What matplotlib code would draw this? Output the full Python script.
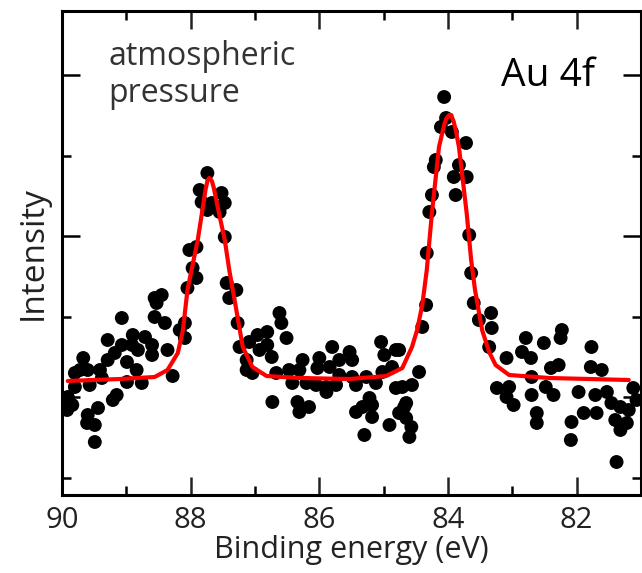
import matplotlib
matplotlib.use("Agg")
import matplotlib.pyplot as plt
from matplotlib.ticker import FixedLocator, NullFormatter
import numpy as np

plt.rcParams["font.family"] = ["Open Sans", "DejaVu Sans"]

# measured points: binding energy (eV) and intensity (arbitrary units)
energy = [
    89.95, 89.92, 89.91, 89.84, 89.80, 89.80, 89.72, 89.67, 89.61, 89.60,
    89.60, 89.57, 89.49, 89.49, 89.44, 89.41, 89.38, 89.29, 89.29, 89.21,
    89.18, 89.15, 89.07, 89.07, 88.99, 88.99, 88.91, 88.90, 88.84, 88.82,
    88.76, 88.71, 88.60, 88.60, 88.56, 88.56, 88.53, 88.45, 88.40, 88.36,
    88.28, 88.17, 88.09, 88.09, 88.05, 88.02, 87.97, 87.91, 87.91, 87.86,
    87.83, 87.74, 87.74, 87.67, 87.55, 87.52, 87.47, 87.47, 87.44, 87.40,
    87.29, 87.27, 87.24, 87.13, 87.13, 87.09, 87.04, 86.96, 86.93, 86.81,
    86.81, 86.74, 86.73, 86.67, 86.62, 86.59, 86.51, 86.47, 86.42, 86.34,
    86.31, 86.31, 86.26, 86.20, 86.16, 86.05, 86.03, 86.00, 85.89, 85.89,
    85.84, 85.80, 85.74, 85.69, 85.69, 85.53, 85.49, 85.49, 85.43, 85.43,
    85.33, 85.30, 85.27, 85.22, 85.18, 85.18, 85.12, 85.04, 85.02, 84.99,
    84.91, 84.87, 84.81, 84.81, 84.76, 84.76, 84.71, 84.68, 84.65, 84.65,
    84.60, 84.57, 84.56, 84.45, 84.40, 84.34, 84.33, 84.29, 84.25, 84.22,
    84.19, 84.11, 84.06, 84.03, 83.94, 83.91, 83.88, 83.83, 83.72, 83.71,
    83.67, 83.64, 83.60, 83.52, 83.36, 83.33, 83.32, 83.24, 83.09, 83.09,
    83.05, 82.98, 82.85, 82.79, 82.71, 82.70, 82.70, 82.62, 82.62, 82.51,
    82.48, 82.40, 82.36, 82.28, 82.25, 82.23, 82.09, 82.08, 81.97, 81.89,
    81.78, 81.77, 81.71, 81.69, 81.61, 81.53, 81.46, 81.40, 81.38, 81.32,
    81.32, 81.22, 81.19, 81.12, 81.07,
]
intensity = [
    95, 90, 103, 95, 127, 113, 130, 142, 77, 130,
    85, 115, 75, 58, 92, 130, 122, 160, 140, 100,
    147, 105, 182, 155, 138, 118, 155, 165, 130, 150,
    117, 163, 155, 145, 183, 202, 197, 205, 177, 150,
    124, 170, 177, 162, 212, 250, 232, 222, 253, 310,
    298, 327, 290, 297, 288, 307, 297, 263, 217, 202,
    210, 177, 153, 140, 130, 158, 127, 165, 150, 168,
    155, 143, 98, 127, 187, 177, 162, 130, 117, 98,
    130, 88, 140, 117, 93, 115, 132, 142, 113, 108,
    133, 153, 115, 140, 125, 148, 140, 123, 115, 88,
    93, 65, 123, 102, 95, 83, 117, 158, 128, 145,
    75, 133, 150, 112, 150, 87, 113, 93, 97, 82,
    63, 73, 115, 128, 173, 195, 247, 288, 305, 333,
    340, 373, 403, 382, 368, 323, 305, 335, 357, 323,
    265, 227, 197, 180, 153, 187, 172, 112, 142, 103,
    113, 95, 148, 162, 142, 123, 105, 87, 77, 157,
    113, 132, 105, 135, 162, 170, 60, 78, 108, 87,
    133, 153, 105, 87, 130, 108, 97, 80, 38, 93,
    70, 77, 90, 112, 100,
]

# fitted curve
fit_energy = [
    89.91, 89.10, 88.56, 88.36, 88.20, 88.12, 88.05, 87.97, 87.89, 87.81,
    87.77, 87.74, 87.71, 87.67, 87.64, 87.58, 87.47, 87.40, 87.29, 87.19,
    87.04, 86.82, 86.31, 85.53, 84.96, 84.71, 84.56, 84.48, 84.40, 84.33,
    84.25, 84.14, 84.06, 84.03, 83.98, 83.95, 83.91, 83.88, 83.83, 83.71,
    83.64, 83.58, 83.47, 83.36, 83.26, 83.05, 82.43, 81.19,
]
fit_intensity = [
    119, 121, 123, 130, 147, 170, 210, 235, 260, 293,
    310, 319, 322, 319, 312, 293, 260, 230, 190, 153,
    133, 124, 122, 121, 124, 132, 153, 170, 195, 230,
    287, 353, 375, 381, 385, 385, 378, 370, 353, 287,
    240, 210, 170, 148, 135, 125, 122, 120,
]

fig = plt.figure(figsize=(6.42, 5.73), dpi=100)
ax = fig.add_axes([62 / 642, 78 / 573, 579 / 642, 484 / 573])

ax.scatter(energy, intensity, s=100, color="black", edgecolors="none", zorder=3)
ax.plot(fit_energy, fit_intensity, color="#ff0000", linewidth=3.0, zorder=4,
        solid_joinstyle="round", solid_capstyle="round")

ax.set_xlim(90, 81)
ax.set_ylim(5, 489)

ax.xaxis.set_major_locator(FixedLocator([90, 88, 86, 84, 82]))
ax.xaxis.set_minor_locator(FixedLocator([89, 87, 85, 83, 81]))
ax.yaxis.set_major_locator(FixedLocator([103, 264, 425]))
ax.yaxis.set_minor_locator(FixedLocator([22, 183, 344]))
ax.yaxis.set_major_formatter(NullFormatter())

ax.tick_params(which="both", direction="in", top=True, right=True, width=1.8, color="black")
ax.tick_params(which="major", length=13)
ax.tick_params(which="minor", length=6.5)
ax.tick_params(axis="x", labelsize=21, pad=8, colors="#222222")
for spine in ax.spines.values():
    spine.set_linewidth(2.2)

ax.set_xlabel("Binding energy (eV)", fontsize=22, color="#222222", labelpad=0)
ax.set_ylabel("Intensity", fontsize=24, color="#222222", labelpad=5)

ax.text(0.08, 0.94, "atmospheric\npressure", transform=ax.transAxes, fontsize=23,
        color="#333333", ha="left", va="top", linespacing=1.15)
ax.text(0.92, 0.866, "Au 4f", transform=ax.transAxes, fontsize=28,
        color="black", ha="right", va="center")

fig.savefig("out.png", dpi=100)
